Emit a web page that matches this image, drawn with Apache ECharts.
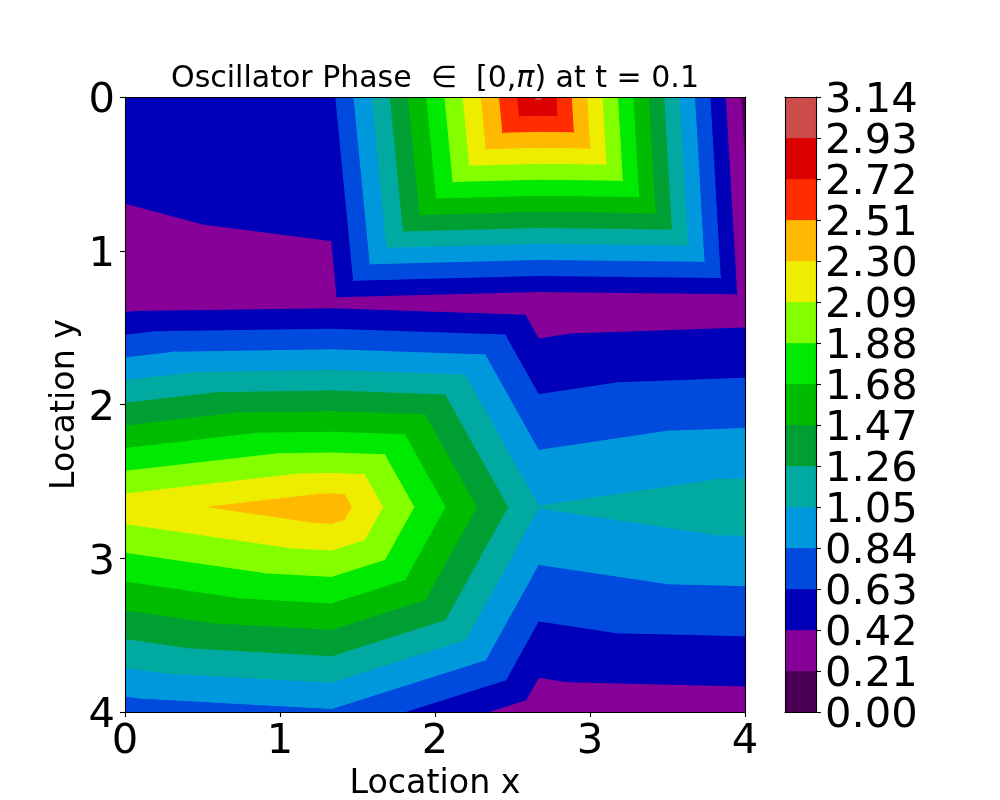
<!DOCTYPE html>
<html>
<head>
<meta charset="utf-8">
<style>html,body{margin:0;padding:0;background:#fff}#c{width:1000px;height:800px}</style>
<script src="https://cdn.jsdelivr.net/npm/echarts@6/dist/echarts.min.js"></script>
</head>
<body>
<div id="c"></div>
<script>
// Grid node locations
var xNodes = [0, 1.3333, 2.6667, 4];
var yNodes = [0, 1.3333, 2.6667, 4];
// Oscillator phase at each node, one list per y row
var phaseRow0 = [0.525, 0.58, 2.96, 0.15];
var phaseRow1 = [0.32, 0.35, 0.28, 0.31];
var phaseRow2 = [2.214, 2.434, 1.05, 1.165];
var phaseRow3 = [0.72, 0.81, 0.29, 0.31];
var levelValues = [0, 0.2094, 0.4189, 0.6283, 0.8378, 1.0472, 1.2566, 1.4661, 1.6755, 1.885, 2.0944, 2.3038, 2.5133, 2.7227, 2.9322, 3.1416];
var levelLabels = ['0.00','0.21','0.42','0.63','0.84','1.05','1.26','1.47','1.68','1.88','2.09','2.30','2.51','2.72','2.93','3.14'];
var bandColors = ['#4b0055','#870098','#0000b9','#004bdd','#0098dd','#00aaa0','#009f33','#00bc00','#00e900','#84ff00','#eeed00','#ffb900','#ff2d00','#dc0000','#cc4c4c'];
var titleText = 'Oscillator Phase  \u2208  [0,{i|\u03c0}) at t = 0.1';
var xName = 'Location x';
var yName = 'Location y';

var rows = [phaseRow0, phaseRow1, phaseRow2, phaseRow3];

function clipBelow(pts, limit, sign) {
  var out = [];
  for (var i = 0; i < pts.length; i++) {
    var a = pts[i], b = pts[(i + 1) % pts.length];
    var ia = sign * (a[2] - limit) >= 0, ib = sign * (b[2] - limit) >= 0;
    if (ia) out.push(a);
    if (ia !== ib) {
      var t = (limit - a[2]) / (b[2] - a[2]);
      out.push([a[0] + t * (b[0] - a[0]), a[1] + t * (b[1] - a[1]), limit]);
    }
  }
  return out;
}
var polygons = [];
function addTri(p, q, r) {
  for (var k = 0; k < bandColors.length; k++) {
    var poly = clipBelow(clipBelow([p, q, r], levelValues[k], 1), levelValues[k + 1], -1);
    if (poly.length >= 3) polygons.push({band: k, pts: poly});
  }
}
for (var j = 0; j < yNodes.length - 1; j++) {
  for (var i = 0; i < xNodes.length - 1; i++) {
    var a = [xNodes[i], yNodes[j], rows[j][i]];
    var b = [xNodes[i + 1], yNodes[j], rows[j][i + 1]];
    var c = [xNodes[i + 1], yNodes[j + 1], rows[j + 1][i + 1]];
    var d = [xNodes[i], yNodes[j + 1], rows[j + 1][i]];
    // each cell is split along the diagonal that holds its highest corner
    if (Math.max(a[2], c[2]) >= Math.max(b[2], d[2])) {
      addTri(a, b, c); addTri(a, c, d);
    } else {
      addTri(b, c, d); addTri(b, d, a);
    }
  }
}
polygons.sort(function (p, q) { return p.band - q.band; });

var FONT = '"DejaVu Sans"';
var tickFont = 41.67;
var line = {show: true, onZero: false, lineStyle: {color: '#000', width: 1.1}};
var tick = {show: true, length: 5, lineStyle: {color: '#000', width: 1.1}};
var noTick = {show: false};
var noSplit = {show: false};
var yLabelBase = {fontFamily: FONT, fontSize: tickFont, color: '#000', lineHeight: 28, verticalAlign: 'top', padding: [-9.5, 0, 0, 0], showMinLabel: true, showMaxLabel: true, hideOverlap: false};
var chart = echarts.init(document.getElementById('c'), null, {renderer: 'canvas'});
chart.setOption({
  animation: false,
  backgroundColor: '#fff',
  title: {
    text: titleText,
    left: 430, top: 59, textAlign: 'center',
    textStyle: {
      fontFamily: FONT, fontSize: 30, fontWeight: 'normal', color: '#000',
      rich: {i: {fontFamily: FONT, fontStyle: 'italic', fontSize: 30, color: '#000'}}
    }
  },
  grid: [
    {left: 125, top: 97, width: 620, height: 615, outerBoundsMode: 'none'},
    {left: 785, top: 97, width: 31, height: 615, outerBoundsMode: 'none'}
  ],
  xAxis: [
    {gridIndex: 0, type: 'value', position: 'bottom', min: 0, max: 4, interval: 1, z: 5,
     axisLine: line, axisTick: tick, splitLine: noSplit,
     axisLabel: {fontFamily: FONT, fontSize: tickFont, color: '#000', margin: 9, showMinLabel: true, showMaxLabel: true, hideOverlap: false},
     name: xName, nameLocation: 'middle', nameGap: 56, nameMoveOverlap: false,
     nameTextStyle: {fontFamily: FONT, fontSize: 33.3, color: '#000'}},
    {gridIndex: 0, type: 'value', position: 'top', min: 0, max: 4, z: 5, axisLine: line, axisTick: noTick, axisLabel: {show: false}, splitLine: noSplit},
    {gridIndex: 1, type: 'value', position: 'bottom', min: 0, max: 1, z: 5, axisLine: line, axisTick: noTick, axisLabel: {show: false}, splitLine: noSplit},
    {gridIndex: 1, type: 'value', position: 'top', min: 0, max: 1, z: 5, axisLine: line, axisTick: noTick, axisLabel: {show: false}, splitLine: noSplit}
  ],
  yAxis: [
    {gridIndex: 0, type: 'value', position: 'left', inverse: true, min: 0, max: 4, interval: 1, z: 5,
     axisLine: line, axisTick: tick, splitLine: noSplit,
     axisLabel: Object.assign({margin: 10}, yLabelBase),
     name: yName, nameLocation: 'middle', nameGap: 43, nameRotate: 90, nameMoveOverlap: false,
     nameTextStyle: {fontFamily: FONT, fontSize: 33.3, color: '#000'}},
    {gridIndex: 0, type: 'value', position: 'right', inverse: true, min: 0, max: 4, z: 5, axisLine: line, axisTick: noTick, axisLabel: {show: false}, splitLine: noSplit},
    {gridIndex: 1, type: 'category', position: 'right', data: levelLabels, boundaryGap: false, z: 5,
     axisLine: line, axisTick: {show: true, length: 5, interval: 0, alignWithLabel: true, lineStyle: {color: '#000', width: 1.1}}, splitLine: noSplit,
     axisLabel: Object.assign({margin: 9, interval: 0}, yLabelBase)},
    {gridIndex: 1, type: 'value', position: 'left', min: 0, max: 1, z: 5, axisLine: line, axisTick: noTick, axisLabel: {show: false}, splitLine: noSplit}
  ],
  series: [
    {
      type: 'custom', xAxisIndex: 0, yAxisIndex: 0, clip: true, silent: true,
      data: polygons.map(function (p, idx) { return [p.pts[0][0], p.pts[0][1], idx]; }),
      renderItem: function (params, api) {
        var p = polygons[api.value(2)];
        var col = bandColors[p.band];
        return {
          type: 'polygon',
          shape: {points: p.pts.map(function (q) { return api.coord([q[0], q[1]]); })},
          style: {fill: col, stroke: col, lineWidth: 1.2}
        };
      }
    },
    {
      type: 'custom', xAxisIndex: 2, yAxisIndex: 2, clip: true, silent: true,
      data: bandColors.map(function (c, k) { return [0, k, k]; }),
      renderItem: function (params, api) {
        var k = api.value(2);
        var p0 = api.coord([0, k]), p1 = api.coord([1, k + 1]);
        return {
          type: 'rect',
          shape: {x: p0[0], y: p1[1], width: p1[0] - p0[0], height: p0[1] - p1[1]},
          style: {fill: bandColors[k], stroke: bandColors[k], lineWidth: 0.3}
        };
      }
    }
  ]
});
</script>
</body>
</html>
